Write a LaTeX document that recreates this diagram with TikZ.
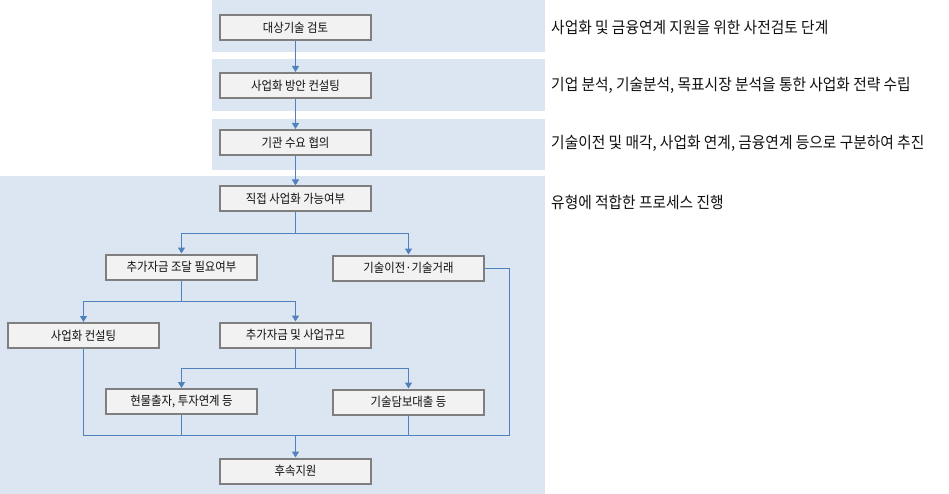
\documentclass[tikz,border=0pt]{standalone}
\usepackage{fontspec}
\newfontfamily\kr[FakeStretch=0.91]{Noto Sans CJK KR}
\newfontfamily\krn[FakeStretch=0.92]{Noto Sans CJK KR}
\usetikzlibrary{arrows.meta}
\definecolor{panel}{HTML}{DCE6F2}
\definecolor{boxfill}{HTML}{F2F2F2}
\definecolor{boxline}{HTML}{7F7F7F}
\definecolor{linkc}{HTML}{4F81BD}
\definecolor{txt}{HTML}{111111}
\begin{document}
\begin{tikzpicture}[x=1pt,y=-1pt,
  stepbox/.style={draw=boxline,fill=boxfill,line width=2pt,minimum width=151pt,minimum height=25pt,inner sep=0pt,font=\kr\fontsize{12.5}{14}\selectfont,text=txt},
  conn/.style={draw=linkc,line width=1pt},
  arr/.style={conn,-{Triangle[width=7pt,length=6pt]}},
  note/.style={anchor=west,font=\krn\fontsize{16}{18}\selectfont,text=txt,inner sep=0pt}]
\useasboundingbox (0,0) rectangle (949,494);
\fill[white] (0,0) rectangle (949,494);
\fill[panel] (212,0) rectangle (545,51.7);
\fill[panel] (212,59.3) rectangle (545,110.7);
\fill[panel] (212,118.7) rectangle (545,170);
\fill[panel] (0,176) rectangle (545,494);

\node[stepbox] (n1) at (295.5,27.5) {대상기술 검토};
\node[stepbox] (n2) at (295.5,85.5) {사업화 방안 컨설팅};
\node[stepbox] (n3) at (295.5,142.5) {기관 수요 협의};
\node[stepbox] (n4) at (295.5,199) {직접 사업화 가능여부};
\node[stepbox] (n5) at (181.5,267) {추가자금 조달 필요여부};
\node[stepbox] (n6) at (408.5,268) {기술이전·기술거래};
\node[stepbox] (n7) at (83.5,335.5) {사업화 컨설팅};
\node[stepbox] (n8) at (295.5,335) {추가자금 및 사업규모};
\node[stepbox] (n9) at (181.5,401.5) {현물출자, 투자연계 등};
\node[stepbox] (n10) at (408.5,402) {기술담보대출 등};
\node[stepbox] (n11) at (295.5,471) {후속지원};

\coordinate (b1) at (295.5,233);
\coordinate (b2) at (181.5,301);
\coordinate (b3) at (295.5,368);
\coordinate (m) at (295.5,435);
\coordinate (r) at (509,435);

\draw[arr] (n1) -- (n2);
\draw[arr] (n2) -- (n3);
\draw[arr] (n3) -- (n4);
\draw[conn] (n4.south) -- (b1);
\draw[arr] (b1) -| (n5.north);
\draw[arr] (b1) -| (n6.north);
\draw[conn] (n5.south) -- (b2);
\draw[arr] (b2) -| (n7.north);
\draw[arr] (b2) -| (n8.north);
\draw[conn] (n8.south) -- (b3);
\draw[arr] (b3) -| (n9.north);
\draw[arr] (b3) -| (n10.north);
\draw[conn] (n7.south) |- (m);
\draw[conn] (n9.south) |- (m);
\draw[conn] (n10.south) |- (m);
\draw[conn] (n6.east) -| (r) -- (m);
\draw[arr] (m) -- (n11.north);

\node[note] (t1) at (551,28) {사업화 및 금융연계 지원을 위한 사전검토 단계};
\node[note] (t2) at (551,85) {기업 분석, 기술분석, 목표시장 분석을 통한 사업화 전략 수립};
\node[note] (t3) at (551,143) {기술이전 및 매각, 사업화 연계, 금융연계 등으로 구분하여 추진};
\node[note] (t4) at (551,202) {유형에 적합한 프로세스 진행};
\end{tikzpicture}
\end{document}
